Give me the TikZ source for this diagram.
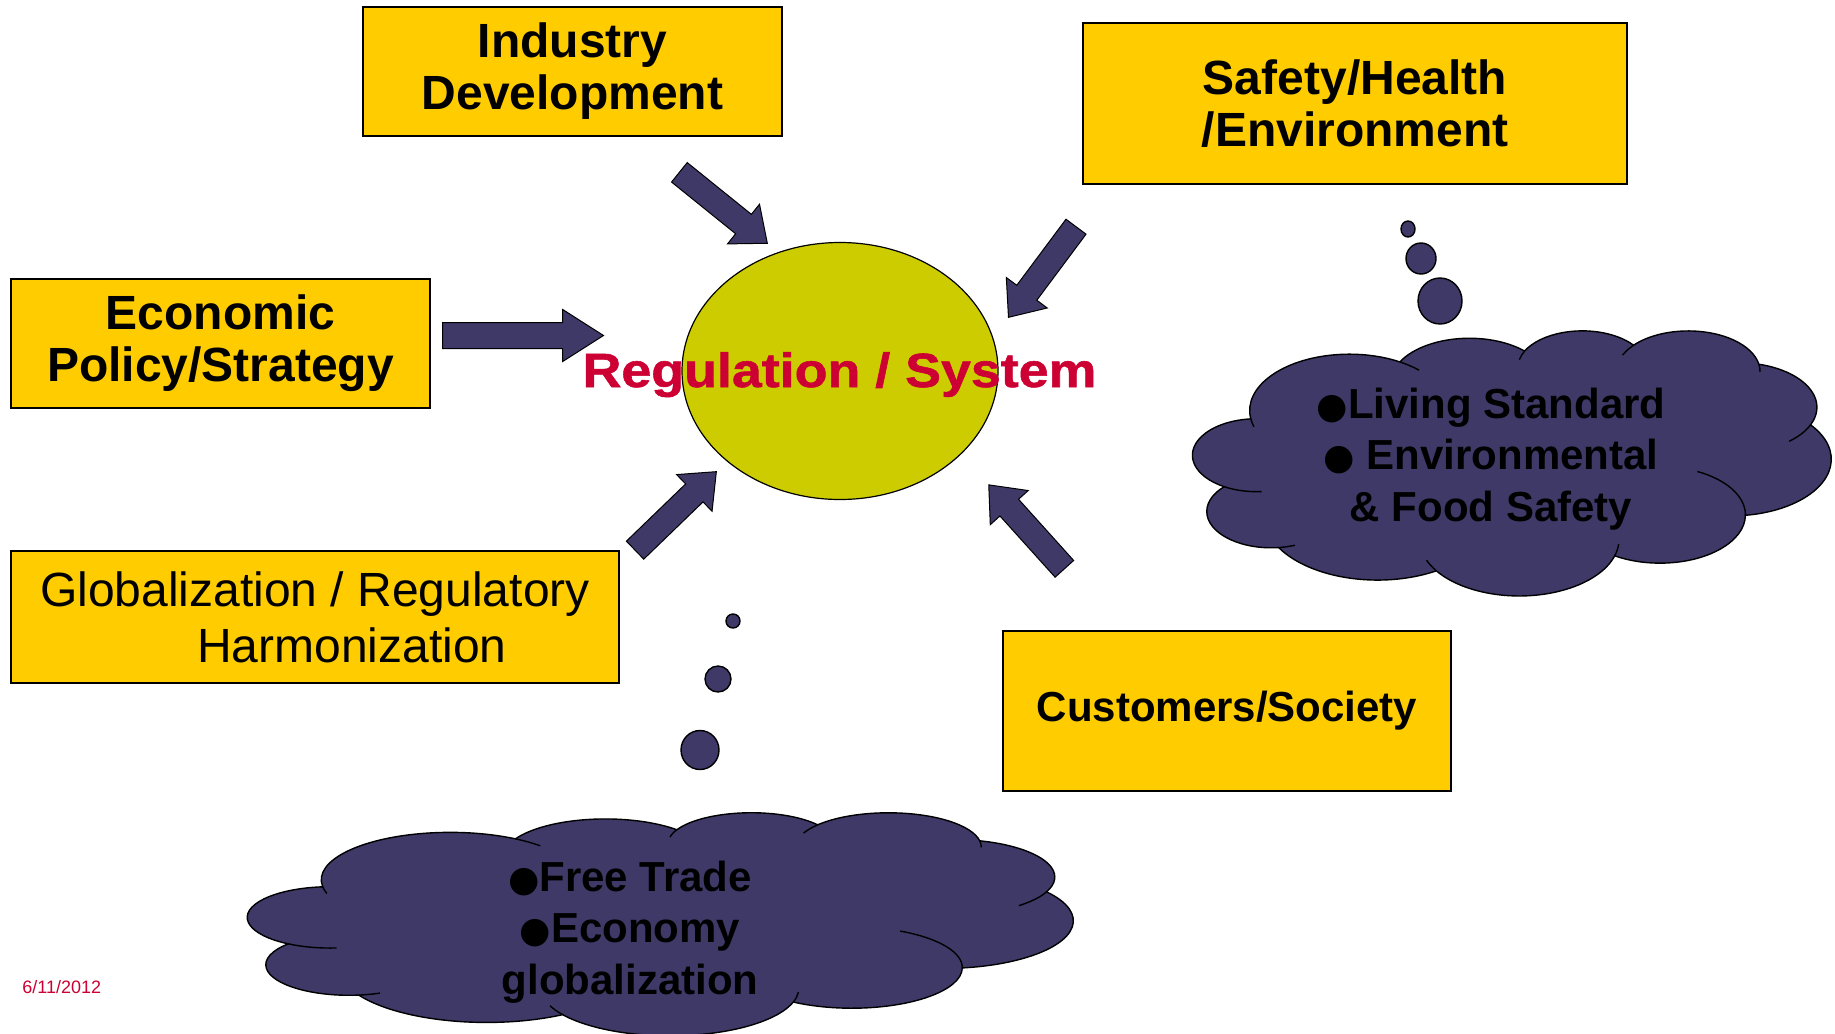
\documentclass[tikz,border=0pt]{standalone}
\usepackage{fontspec}
\setmainfont{Liberation Sans}
\newfontfamily\regfont{Liberation Sans}[FakeStretch=1.12,FakeBold=1.2]
\newfontfamily\dotfont{DejaVu Sans}
\usetikzlibrary{shapes.geometric,shapes.arrows}
\definecolor{boxyellow}{HTML}{FFCC00}
\definecolor{ovalgreen}{HTML}{CCCC00}
\definecolor{puffblue}{HTML}{3F3968}
\definecolor{regred}{HTML}{CC0033}
\newcommand{\blt}{{\dotfont\fontsize{18}{20}\selectfont ●}}
\tikzset{
  factor/.style={draw=black, line width=0.8pt, fill=boxyellow, inner sep=0pt, align=center,
    font=\fontsize{24}{26}\selectfont\bfseries},
  pushl/.style={single arrow, draw=black, line width=0.5pt, fill=puffblue, inner xsep=0pt,
    inner ysep=6pt, single arrow head extend=6.5pt, minimum height=56.5pt,
    single arrow tip angle=79.6, anchor=tail},
  bubble/.style={ellipse, draw=black, line width=0.7pt, fill=puffblue, inner sep=0pt},
  puff/.style={draw=black, line width=0.7pt, fill=puffblue},
  puffline/.style={draw=black, line width=0.7pt},
  thought/.style={align=center, inner sep=0pt, font=\fontsize{21}{25.75}\selectfont\bfseries}
}
% cloud: left, top, width, height (in px of the slide)
\newcommand{\thoughtcloud}[4]{%
\begin{scope}[shift={(#1,#2)}, xscale=#3/432, yscale=#4/432]
\path[puff] (39.00,143.70)
  arc[start angle=-187.75, end angle=-59.64, x radius=67.53, y radius=91.90]
  arc[start angle=-152.02, end angle=-45.44, x radius=53.33, y radius=72.67]
  arc[start angle=-153.48, end angle=-37.34, x radius=43.65, y radius=59.45]
  arc[start angle=-139.70, end angle=-10.21, x radius=48.57, y radius=65.95]
  arc[start angle=-74.77, end angle=23.21, x radius=53.33, y radius=72.73]
  arc[start angle=-37.53, end angle=81.86, x radius=67.75, y radius=92.20]
  arc[start angle=0.46, end angle=121.99, x radius=57.85, y radius=78.67]
  arc[start angle=16.85, end angle=146.27, x radius=67.52, y radius=92.15]
  arc[start angle=58.98, end angle=150.20, x radius=77.20, y radius=105.43]
  arc[start angle=-276.69, end angle=-136.87, x radius=43.60, y radius=59.18]
  arc[start angle=-239.64, end angle=-95.89, x radius=43.45, y radius=59.45]
  -- cycle;
\foreach \cx/\cy/\rx/\ry/\sa/\ea in {
  105.914/131.314/67.53/91.90/-59.64/-45.74,
  105.914/131.314/67.53/91.90/163.19/172.25,
  263.628/60.883/43.65/59.45/-167.73/-153.48,
  335.369/67.469/48.57/65.95/-156.29/-139.70,
  335.369/67.469/48.57/65.95/-10.21/0.82,
  369.162/125.954/53.33/72.73/23.21/49.64,
  316.189/301.418/57.85/78.67/-64.03/0.46,
  220.919/341.43/67.52/92.15/4.74/16.85,
  220.919/341.43/67.52/92.15/146.27/158.47,
  52.893/295.87/43.60/59.18/68.23/83.31,
  43.043/204.106/43.45/59.45/85.55/120.36}
  \draw[puffline] ({\cx+\rx*cos(\sa)},{\cy+\ry*sin(\sa)})
    arc[start angle=\sa, end angle=\ea, x radius=\rx, y radius=\ry];
\end{scope}}

\begin{document}
\begin{tikzpicture}[x=0.5pt,y=-0.5pt]
\path[use as bounding box, fill=white] (0,0) rectangle (1835,1033);

% the five factors
\node[factor, minimum width=209.5pt, minimum height=64.5pt] (industry) at (572.5,71.5) {Industry\\Development};
\node[factor, minimum width=272pt, minimum height=80.5pt] (safety) at (1355,103.5) {Safety/Health\\/Environment};
\node[factor, minimum width=209.5pt, minimum height=64.5pt] (economic) at (220.5,343.5) {Economic\\Policy/Strategy};
\node[factor, minimum width=304pt, minimum height=66pt, font=\fontsize{24}{28}\selectfont\mdseries] (global) at (315,617)
  {Globalization / Regulatory\\\hspace*{37pt}Harmonization};
\node[factor, minimum width=224pt, minimum height=80pt, font=\fontsize{21}{25}\selectfont\bfseries] (customers) at (1227,711) {Customers/Society};

% centre
\node[ellipse, draw=black, line width=0.6pt, fill=ovalgreen, minimum width=158pt, minimum height=128.5pt, inner sep=0pt] (regsys) at (840,371) {};
\node[anchor=base, inner sep=0pt, text=regred, font=\regfont\fontsize{24}{28}\selectfont\bfseries] (regtext) at (839.5,387) {Regulation / System};

% block arrows
\node[pushl, rotate=-38.9] (arrind) at (679,172) {};
\node[pushl, rotate=-126.7] (arrsafe) at (1076.3,226.3) {};
\node[pushl, rotate=44] (arrglob) at (634.7,550.5) {};
\node[pushl, rotate=132] (arrcust) at (1064.7,569.2) {};
\node[pushl, inner ysep=6.25pt, minimum height=80.5pt, single arrow tip angle=65] (arrecon) at (442,335.5) {};

% thought bubbles
\node[bubble, minimum width=7pt, minimum height=8pt] (rb1) at (1408,229) {};
\node[bubble, minimum width=15pt, minimum height=15.5pt] (rb2) at (1421,258.5) {};
\node[bubble, minimum width=22pt, minimum height=23pt] (rb3) at (1440,301) {};
\node[bubble, minimum width=7pt, minimum height=7pt] (lb1) at (733,621) {};
\node[bubble, minimum width=13pt, minimum height=13pt] (lb2) at (718,679) {};
\node[bubble, minimum width=19pt, minimum height=19.5pt] (lb3) at (700,750) {};

\thoughtcloud{1193}{330}{638}{265}
\thoughtcloud{248}{812}{825}{223}

\node[thought] (livetext) at (1491,459) {\blt Living Standard\\\blt\ Environmental\\\& Food Safety};
\node[thought] (tradetext) at (630,932) {\blt Free Trade\\\blt Economy\\globalization};

\node[anchor=base west, inner sep=0pt, text=regred, font=\fontsize{9}{11}\selectfont] (date) at (22,993) {6/11/2012};
\end{tikzpicture}
\end{document}
